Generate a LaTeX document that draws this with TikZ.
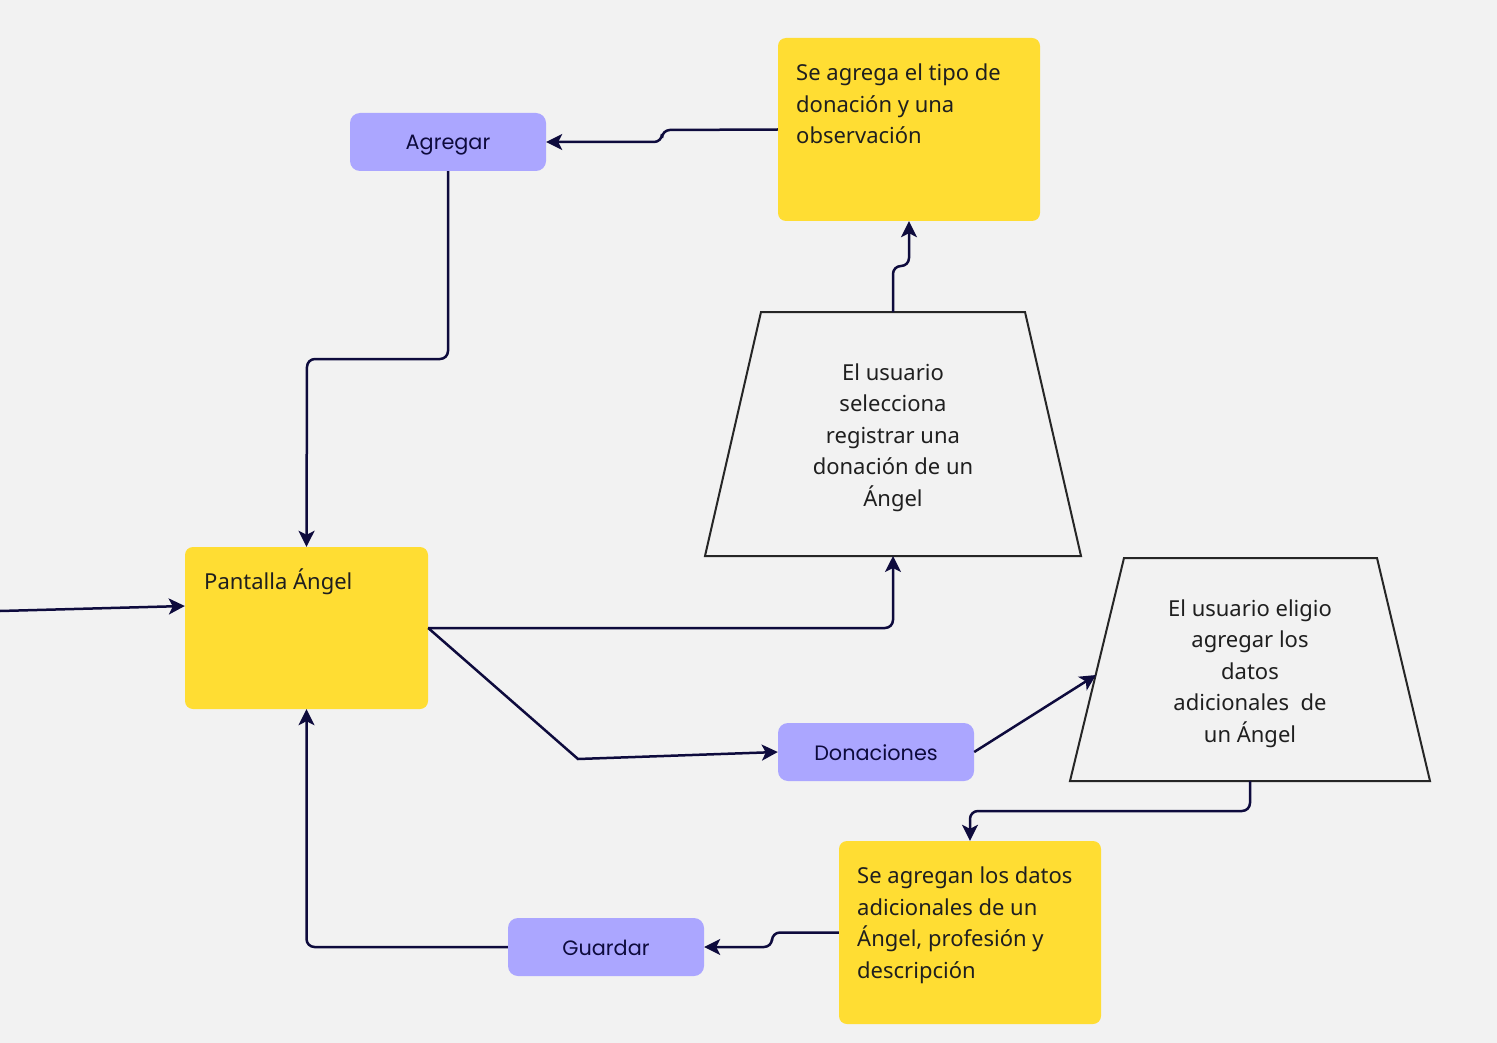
\documentclass[tikz,border=0pt]{standalone}
\usepackage{fontspec}
\setmainfont{Noto Sans}
\newfontfamily\popfont{Poppins}
\usetikzlibrary{arrows.meta}

\definecolor{fondo}{HTML}{F2F2F2}
\definecolor{amarillo}{HTML}{FFDD33}
\definecolor{morado}{HTML}{ABA6FF}
\definecolor{linea}{HTML}{0E0B3D}
\definecolor{texto}{HTML}{1F1F1F}

\tikzset{
  nota/.style={fill=amarillo, rounded corners=8pt, minimum width=262pt, minimum height=183pt, inner sep=0pt},
  notatexto/.style={anchor=north west, align=left, text=texto, inner sep=0pt,
    font=\fontsize{22}{31.5}\selectfont, execute at begin node={\rule{0pt}{20pt}}},
  boton/.style={fill=morado, rounded corners=10pt, minimum width=196pt, minimum height=58pt, inner sep=0pt,
    text height=17pt, text depth=1pt, text=linea, font=\popfont\fontsize{20.8}{24}\selectfont},
  decision/.style={draw=black!85, line width=2pt},
  decisiontexto/.style={align=center, inner sep=0pt, text=texto, font=\fontsize{22}{31.5}\selectfont},
  flecha/.style={draw=linea, line width=2.5pt, rounded corners=8pt, -{Stealth[length=16pt,width=16pt,inset=4pt]}}
}

\begin{document}
\begin{tikzpicture}[x=1pt,y=-1pt]
    \useasboundingbox (0,0) rectangle (1497,1043);
    \fill[fondo] (0,0) rectangle (1497,1043);

    % Notas amarillas
    \node[nota] (tipo) at (909,129.5) {};
    \node[notatexto] (tipotxt) at (796,64) {Se agrega el tipo de\\donación y una\\observación};

    \node[nota, minimum width=243pt, minimum height=162pt] (pantalla) at (306.5,628) {};
    \node[notatexto] (pantallatxt) at (204,569) {Pantalla Ángel};

    \node[nota] (datos) at (970,932.5) {};
    \node[notatexto] (datostxt) at (857,867) {Se agregan los datos\\adicionales de un\\Ángel, profesión y\\descripción};

    % Botones
    \node[boton] (agregar) at (448,142) {Agregar};
    \node[boton] (donaciones) at (876,752) {Donaciones};
    \node[boton] (guardar) at (606,947) {Guardar};

    % Decisiones
    \draw[decision] (705,556) -- (761,312) -- (1025,312) -- (1081,556) -- cycle;
    \node[decisiontexto] (registrar) at (893,437.5)
          {El usuario\\selecciona\\registrar una\\donación de un\\Ángel};
    \coordinate (registrar arriba) at (893,312);
    \coordinate (registrar abajo) at (893,556);

    \draw[decision] (1070,781) -- (1124,558) -- (1377,558) -- (1430,781) -- cycle;
    \node[decisiontexto] (eligio) at (1250,673.5)
          {El usuario eligio\\agregar los\\datos\\adicionales\ \ de\\un Ángel};
    \coordinate (eligio izq) at (1096,675);
    \coordinate (eligio abajo) at (1250,781);

    % Conexiones
    \coordinate (entrada) at (0,611);
    \draw[flecha] (entrada) -- ([yshift=22pt]pantalla.west);
    \draw[flecha] (tipo.west) -- (662,130) -- (662,142) -- (agregar.east);
    \draw[flecha] (agregar.south) -- (448,359) -- (307,359) -- (pantalla.north);
    \draw[flecha] (pantalla.east) -| (registrar abajo);
    \draw[flecha] (registrar arriba) -- (893,266) -- (909,266) -- (tipo.south);
    \draw[flecha, rounded corners=0pt] (pantalla.east) -- (578,759) -- (donaciones.west);
    \draw[flecha] (donaciones.east) -- (eligio izq);
    \draw[flecha] (eligio abajo) -- (1250,811) -- (970,811) -- (datos.north);
    \draw[flecha] (datos.west) -- (772,932.5) -- (772,947) -- (guardar.east);
    \draw[flecha] (guardar.west) -| (pantalla.south);
\end{tikzpicture}
\end{document}
